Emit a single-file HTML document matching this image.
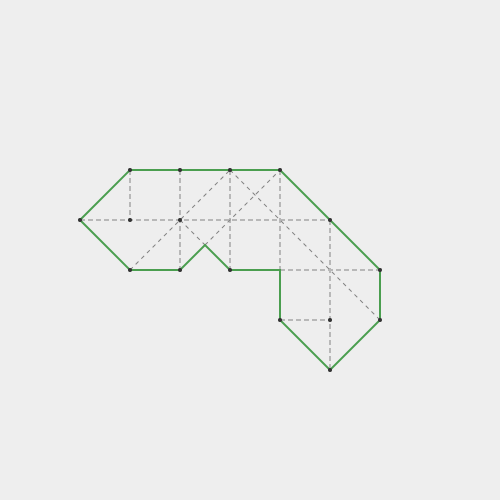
<!DOCTYPE html>
<html>
<head>
<meta charset="utf-8">
<style>
html,body{margin:0;padding:0;background:#eeeeee;width:500px;height:500px;overflow:hidden}
svg{display:block}
</style>
</head>
<body>
<svg id="diagram" width="500" height="500" viewBox="0 0 500 500" xmlns="http://www.w3.org/2000/svg">
<rect width="500" height="500" fill="#eeeeee"/>
</svg>
<script>
// Coordinates in grid units
const outlineX = [0, 1, 4, 6, 6, 5, 4, 4, 3, 2.5, 2, 1, 0];
const outlineY = [1, 0, 0, 2, 3, 4, 3, 2, 2, 1.5, 2, 2, 1];
const foldStartX = [1, 2, 3, 4, 5, 0, 4, 4];
const foldStartY = [0, 0, 0, 0, 1, 1, 2, 3];
const foldEndX = [1, 2, 3, 4, 5, 5, 6, 5];
const foldEndY = [1, 2, 2, 2, 4, 1, 2, 3];
const creaseStartX = [1, 2, 2.5, 3];
const creaseStartY = [2, 1, 1.5, 0];
const creaseEndX = [3, 2.5, 4, 6];
const creaseEndY = [0, 1.5, 0, 3];
const vertexX = [0, 1, 2, 3, 4, 1, 2, 5, 1, 2, 3, 6, 4, 5, 6, 5];
const vertexY = [1, 0, 0, 0, 0, 1, 1, 1, 2, 2, 2, 2, 3, 3, 3, 4];

const svg = document.getElementById('diagram');
const NS = 'http://www.w3.org/2000/svg';
const xAxis = v => 80 + 50 * v;
const yAxis = v => 170 + 50 * v;

function drawSegment(x1, y1, x2, y2, stroke, width, dash) {
  const el = document.createElementNS(NS, 'line');
  el.setAttribute('x1', xAxis(x1));
  el.setAttribute('y1', yAxis(y1));
  el.setAttribute('x2', xAxis(x2));
  el.setAttribute('y2', yAxis(y2));
  el.setAttribute('stroke', stroke);
  el.setAttribute('stroke-width', width);
  el.setAttribute('stroke-dasharray', dash);
  svg.appendChild(el);
  return el;
}

foldStartX.forEach((_, i) => {
  const el = drawSegment(foldStartX[i], foldStartY[i], foldEndX[i], foldEndY[i], '#b8b8b8', 2, '5 3');
  
  
});

creaseStartX.forEach((_, i) => {
  const el = drawSegment(creaseStartX[i], creaseStartY[i], creaseEndX[i], creaseEndY[i], '#808080', 1, '4 4');
  
  
});

const outline = document.createElementNS(NS, 'polyline');


outline.setAttribute('points', outlineX.map((x, i) => xAxis(x) + ',' + yAxis(outlineY[i])).join(' '));
outline.setAttribute('fill', 'none');
outline.setAttribute('stroke', '#4a9e4f');
outline.setAttribute('stroke-width', '2');
svg.appendChild(outline);

vertexX.forEach((x, i) => {
  const dot = document.createElementNS(NS, 'circle');
  
  
  dot.setAttribute('cx', xAxis(x));
  dot.setAttribute('cy', yAxis(vertexY[i]));
  dot.setAttribute('r', '2');
  dot.setAttribute('fill', '#333333');
  svg.appendChild(dot);
});
</script>
</body>
</html>
